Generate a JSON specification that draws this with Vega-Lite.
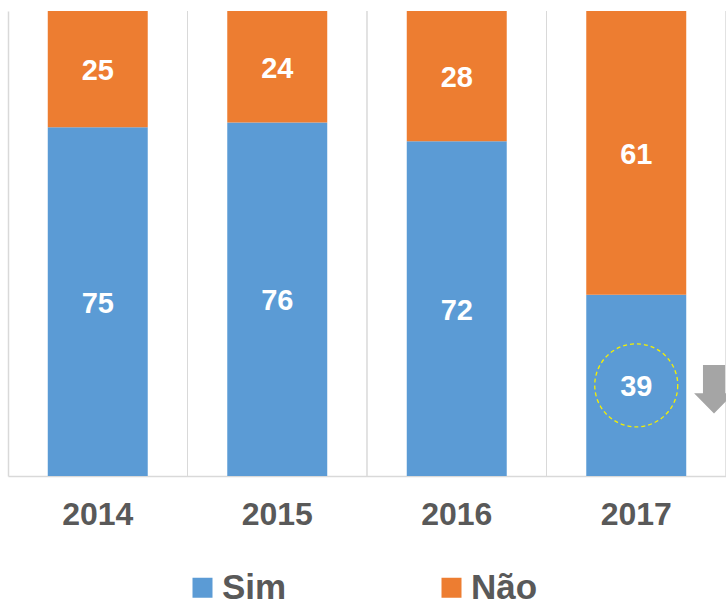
{
  "$schema": "https://vega.github.io/schema/vega-lite/v6.json",
  "width": 718,
  "height": 465,
  "autosize": {"type": "none"},
  "padding": {"left": 8, "top": 11, "right": 0, "bottom": 129},
  "background": "white",
  "config": {"view": {"stroke": null}},
  "data": {
    "values": [
      {"ano": "2014", "resposta": "Sim", "valor": 75},
      {"ano": "2014", "resposta": "Não", "valor": 25},
      {"ano": "2015", "resposta": "Sim", "valor": 76},
      {"ano": "2015", "resposta": "Não", "valor": 24},
      {"ano": "2016", "resposta": "Sim", "valor": 72},
      {"ano": "2016", "resposta": "Não", "valor": 28},
      {"ano": "2017", "resposta": "Sim", "valor": 39},
      {"ano": "2017", "resposta": "Não", "valor": 61}
    ]
  },
  "transform": [
    {"stack": "valor", "groupby": ["ano"], "sort": [{"field": "resposta", "order": "descending"}], "as": ["y0", "y1"]},
    {"calculate": "(datum.y0 + datum.y1) / 2", "as": "meio"}
  ],
  "encoding": {
    "x": {
      "field": "ano", "type": "ordinal",
      "scale": {"paddingInner": 0, "paddingOuter": 0},
      "axis": {
        "title": null, "labelAngle": 0, "ticks": false, "domain": true, "domainColor": "#d9d9d9", "domainWidth": 1.5,
        "grid": false, "labelFont": "Liberation Sans", "labelFontSize": 32,
        "labelFontWeight": "bold", "labelColor": "#595959", "labelPadding": 23
      }
    }
  },
  "layer": [
    {
      "mark": {"type": "rule", "color": "#d9d9d9", "strokeWidth": 1},
      "encoding": {
        "x": {
          "field": "ano", "type": "ordinal", "bandPosition": 1,
          "scale": {"paddingInner": 0, "paddingOuter": 0},
          "axis": {
            "title": null, "labelAngle": 0, "ticks": false, "domain": true, "domainColor": "#d9d9d9", "domainWidth": 1.5,
            "grid": false, "labelFont": "Liberation Sans", "labelFontSize": 32,
            "labelFontWeight": "bold", "labelColor": "#595959", "labelPadding": 23
          }
        }
      }
    },
    {
      "mark": {"type": "bar", "width": {"band": 0.557}},
      "encoding": {
        "y": {
          "field": "y0", "type": "quantitative",
          "scale": {"domain": [0, 100], "nice": false},
          "axis": {"title": null, "domain": true, "domainColor": "#d9d9d9", "domainWidth": 1.5, "ticks": false, "labels": false, "grid": false}
        },
        "y2": {"field": "y1"},
        "color": {
          "field": "resposta", "type": "nominal",
          "scale": {"domain": ["Sim", "Não"], "range": ["#5B9BD5", "#ED7D31"]},
          "legend": {
            "title": null, "orient": "none", "direction": "horizontal", "legendX": 177, "legendY": 559,
            "padding": 0, "symbolType": "square", "symbolSize": 400, "symbolStrokeWidth": 0,
            "labelFont": "Liberation Sans", "labelFontSize": 35, "labelFontWeight": "bold",
            "labelColor": "#595959", "labelOffset": 2, "columnPadding": 147
          }
        }
      }
    },
    {
      "mark": {"type": "text", "color": "white", "font": "Liberation Sans", "fontSize": 29, "fontWeight": "bold", "baseline": "middle", "dy": 2},
      "encoding": {
        "y": {"field": "meio", "type": "quantitative"},
        "text": {"field": "valor", "type": "quantitative"}
      }
    },
    {
      "transform": [{"filter": "datum.ano == '2017' && datum.resposta == 'Sim'"}],
      "mark": {"type": "point", "shape": "circle", "size": 6889, "filled": false, "stroke": "#f5f000", "strokeDash": [4, 3], "strokeWidth": 1.3, "opacity": 1},
      "encoding": {
        "y": {"field": "meio", "type": "quantitative"}
      }
    },
    {
      "transform": [{"filter": "datum.ano == '2017' && datum.resposta == 'Sim'"}],
      "mark": {"type": "point", "shape": "M2.78,-0.85 L3.70,-0.85 L3.70,0.33 L4.07,0.33 L3.24,1.17 L2.41,0.33 L2.78,0.33 Z", "size": 2304, "filled": true, "fill": "#A5A5A5", "strokeWidth": 0, "opacity": 1},
      "encoding": {
        "y": {"field": "meio", "type": "quantitative"}
      }
    }
  ]
}
